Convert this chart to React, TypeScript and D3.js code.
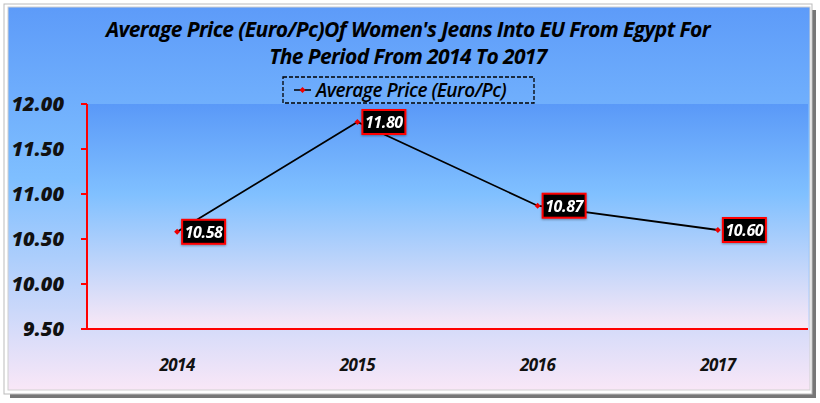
import React from "react";
import * as d3 from "d3";

const categories = ["2014", "2015", "2016", "2017"];
const values = [10.58, 11.8, 10.87, 10.6];
const yTicks = [9.5, 10, 10.5, 11, 11.5, 12];
const seriesName = "Average Price (Euro/Pc)";
const titleLines = [
  "Average Price (Euro/Pc)Of Women's Jeans Into EU From Egypt For",
  "The Period From 2014 To 2017",
];

const W = 820;
const H = 403;
const plot = { left: 87, right: 808, top: 104, bottom: 329 };

export default function App() {
  const x = d3
    .scaleBand<string>()
    .domain(categories)
    .range([plot.left, plot.right]);
  const y = d3.scaleLinear().domain([9.5, 12]).range([plot.bottom, plot.top]);
  const line = d3
    .line<number>()
    .x((_, i) => (x(categories[i]) as number) + x.bandwidth() / 2)
    .y((d) => y(d));

  const titleFont = "'Open Sans', 'DejaVu Sans', sans-serif";
  const numFont = "'Open Sans', 'DejaVu Sans', sans-serif";

  return (
    <svg
      width={W}
      height={H}
      style={{ position: "absolute", left: 0, top: 0, background: "#fff" }}
    >
      <defs>
        <linearGradient id="chartBg" x1="0" y1="0" x2="0" y2="1">
          <stop offset="0" stopColor="#5d9bf9" />
          <stop offset="0.45" stopColor="#7fbfff" />
          <stop offset="1" stopColor="#f9e7f7" />
        </linearGradient>
        <linearGradient id="plotBg" x1="0" y1="0" x2="0" y2="1">
          <stop offset="0" stopColor="#5a99f8" />
          <stop offset="0.4" stopColor="#80c0ff" />
          <stop offset="1" stopColor="#fae8f6" />
        </linearGradient>
        <filter id="shadow" x="-10%" y="-10%" width="130%" height="140%">
          <feDropShadow dx="0" dy="1" stdDeviation="1.2" floodColor="#000" floodOpacity="0.35" />
        </filter>
      </defs>
      {/* frame shadow */}
      <rect x={10} y={10} width={806} height={388} fill="#555" opacity={0.8} />
      <rect x={4} y={4} width={808} height={390} fill="#fff" stroke="#bbb" />
      <rect x={8} y={7} width={802} height={383} fill="url(#chartBg)" stroke="#d0d0d0" />
      {/* plot area */}
      <rect
        x={plot.left}
        y={plot.top}
        width={plot.right - plot.left}
        height={plot.bottom - plot.top}
        fill="url(#plotBg)"
      />
      {/* title */}
      {titleLines.map((t, i) => (
        <text
          key={i}
          x={408}
          y={37 + i * 27}
          textAnchor="middle"
          fontFamily={titleFont}
          fontWeight="bold"
          fontStyle="italic"
          fontSize={21}
          fill="#000"
          letterSpacing={-0.6}
        >
          {t}
        </text>
      ))}
      {/* legend */}
      <rect
        x={283}
        y={77}
        width={251}
        height={26}
        fill="none"
        stroke="#000"
        strokeWidth={1.3}
        strokeDasharray="4,2"
      />
      <line x1={294} x2={311} y1={90} y2={90} stroke="#000" strokeWidth={1.5} />
      <path d="M302.5,87 L305.5,90 L302.5,93 L299.5,90 Z" fill="#e00" />
      <text
        x={316}
        y={97}
        fontFamily={titleFont}
        fontWeight="600"
        fontStyle="italic"
        fontSize={19}
        letterSpacing={-0.5}
        fill="#000"
      >
        {seriesName}
      </text>
      {/* y axis */}
      <line x1={plot.left} x2={plot.left} y1={plot.top} y2={plot.bottom} stroke="#f00" strokeWidth={2} />
      {yTicks.map((t) => (
        <g key={t}>
          <line x1={plot.left - 6} x2={plot.left} y1={y(t)} y2={y(t)} stroke="#f00" strokeWidth={2} />
          <text
            x={64}
            y={y(t) + 7}
            textAnchor="end"
            fontFamily={numFont}
            fontWeight="800"
            fontStyle="italic"
            fontSize={20}
            fill="#111"
          >
            {t.toFixed(2)}
          </text>
        </g>
      ))}
      {/* x axis */}
      <line x1={plot.left - 6} x2={plot.right} y1={plot.bottom} y2={plot.bottom} stroke="#f00" strokeWidth={2} />
      {categories.map((c) => (
        <text
          key={c}
          x={(x(c) as number) + x.bandwidth() / 2}
          y={371}
          textAnchor="middle"
          fontFamily={titleFont}
          fontWeight="bold"
          fontStyle="italic"
          fontSize={17}
          letterSpacing={-0.5}
          fill="#111"
        >
          {c}
        </text>
      ))}
      {/* series line */}
      <path d={line(values) || ""} fill="none" stroke="#000" strokeWidth={1.8} />
      {values.map((v, i) => {
        const cx = (x(categories[i]) as number) + x.bandwidth() / 2;
        const cy = y(v);
        return (
          <path
            key={i}
            d={`M${cx},${cy - 3} L${cx + 3},${cy} L${cx},${cy + 3} L${cx - 3},${cy} Z`}
            fill="#e00"
          />
        );
      })}
      {/* data labels */}
      {values.map((v, i) => {
        const cx = (x(categories[i]) as number) + x.bandwidth() / 2;
        const cy = y(v);
        const bx = cx + 5;
        return (
          <g key={i} filter="url(#shadow)">
            <rect x={bx} y={cy - 12} width={43} height={24} fill="#000" stroke="#f00" strokeWidth={2} />
            <text
              x={bx + 21.5}
              y={cy + 6}
              textAnchor="middle"
              fontFamily={numFont}
              fontWeight="bold"
              fontStyle="italic"
              fontSize={16}
              letterSpacing={-0.4}
              fill="#fff"
            >
              {v.toFixed(2)}
            </text>
          </g>
        );
      })}
    </svg>
  );
}
